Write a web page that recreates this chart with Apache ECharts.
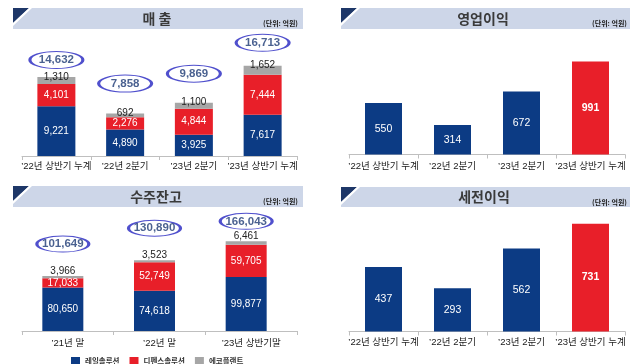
<!DOCTYPE html>
<html><head><meta charset="utf-8">
<script src="https://cdn.jsdelivr.net/npm/echarts@6/dist/echarts.min.js"></script>
<style>html,body{margin:0;padding:0;background:#fff}#c{width:640px;height:364px}</style>
</head><body><div id="c"></div>
<script>
const salesCats = ['’22년 상반기 누계', '’22년 2분기', '’23년 2분기', '’23년 상반기 누계'];
const salesRail = [9221, 4890, 3925, 7617];
const salesDefense = [4101, 2276, 4844, 7444];
const salesEco = [1310, 692, 1100, 1652];
const salesTotal = [14632, 7858, 9869, 16713];
const opProfit = [550, 314, 672, 991];
const backlogCats = ['’21년 말', '’22년 말', '’23년 상반기말'];
const backlogRail = [80650, 74618, 99877];
const backlogDefense = [17033, 52749, 59705];
const backlogEco = [3966, 3523, 6461];
const backlogTotal = [101649, 130890, 166043];
const pretaxProfit = [437, 293, 562, 731];
const seriesNames = ['레일솔루션', '디펜스솔루션', '에코플랜트'];
const panelTitles = ['매 출', '영업이익', '수주잔고', '세전이익'];
const unitText = '(단위: 억원)';

const FONT = "'Liberation Sans', Arial, 'Noto Sans CJK KR', sans-serif";
const BLUE = '#0c3b84', RED = '#e81f29', GRAY = '#a6a6a6';
const fmt = v => v.toLocaleString('en-US');

const grids = [
  {left: 22, width: 275, top: 48, height: 108},
  {left: 349, width: 276, top: 42, height: 112.5},
  {left: 22, width: 275, top: 223, height: 108},
  {left: 349, width: 276, top: 213.5, height: 118},
  {left: 17, width: 275, top: 223, height: 108}
];
const maxes = [20000, 1200, 200000, 800, 200000];
const catsFor = [salesCats, salesCats, backlogCats, salesCats, backlogCats];
const margins = [6, 7, 8, 6, 8];

const xAxes = grids.map((g, i) => ({
  type: 'category', gridIndex: i, data: catsFor[i], show: i !== 4,
  axisLine: {lineStyle: {color: '#bfbfbf', width: 1}},
  axisTick: {show: true, length: 4, lineStyle: {color: '#bfbfbf'}},
  axisLabel: {color: '#1a1a1a', fontSize: 9.5, fontFamily: FONT, margin: margins[i], interval: 0}
}));
const yAxes = grids.map((g, i) => ({
  type: 'value', gridIndex: i, min: 0, max: maxes[i], show: false,
  splitLine: {show: false}
}));

function stackSeries(axisIdx, stackName, arrays, barWidth, grayDist) {
  const colors = [BLUE, RED, GRAY];
  return arrays.map((arr, k) => ({
    name: seriesNames[k], type: 'bar', stack: stackName,
    xAxisIndex: axisIdx, yAxisIndex: axisIdx, barWidth: barWidth,
    data: arr, itemStyle: {color: colors[k]},
    label: k < 2 ? {show: true, position: 'inside', color: '#fff', fontSize: 10, fontFamily: FONT, formatter: p => fmt(p.value)}
                 : {show: true, position: 'top', distance: grayDist, color: '#222', fontSize: 10, fontFamily: FONT, formatter: p => fmt(p.value)},
    z: 2
  }));
}

function totalSeries(axisIdx, totals, lift, size) {
  return {
    type: 'scatter', xAxisIndex: axisIdx, yAxisIndex: axisIdx,
    symbol: 'circle', symbolSize: size,
    data: totals.map((v, i) => ({value: v, symbolOffset: [0, -lift[i]]})),
    itemStyle: {color: 'rgba(255,255,255,0)', borderColor: '#2424c0', borderWidth: 1.8},
    label: {show: true, position: 'inside', color: '#1d3a74', fontWeight: 'bold', fontSize: 11.5, fontFamily: FONT, formatter: p => fmt(p.value)},
    z: 5, silent: true
  };
}

function profitSeries(axisIdx, arr) {
  const last = arr.length - 1;
  return {
    type: 'bar', xAxisIndex: axisIdx, yAxisIndex: axisIdx, barWidth: 37,
    data: arr.map((v, i) => ({
      value: v,
      itemStyle: {color: i === last ? RED : BLUE},
      label: {fontWeight: i === last ? 'bold' : 'normal'}
    })),
    label: {show: true, position: 'inside', color: '#fff', fontSize: 10.5, fontFamily: FONT}
  };
}

const series = [].concat(
  stackSeries(0, 'sales', [salesRail, salesDefense, salesEco], 38, -5),
  [totalSeries(0, salesTotal, [17, 30, 29, 23], [53, 17])],
  [profitSeries(1, opProfit)],
  stackSeries(4, 'backlog', [backlogRail, backlogDefense, backlogEco], 41, 0),
  [totalSeries(4, backlogTotal, [32, 32, 20], [52, 16])],
  [profitSeries(3, pretaxProfit)]
);

// header bands
const bands = [
  {x: 13, y: 8, w: 290, h: 21, tx: 157, ux: 298},
  {x: 341, y: 8, w: 289, h: 21, tx: 483, ux: 627},
  {x: 13, y: 186, w: 290, h: 21, tx: 156, ux: 298},
  {x: 341, y: 187, w: 289, h: 20, tx: 484, ux: 627}
];
const graphic = [];
bands.forEach((b, i) => {
  graphic.push({type: 'rect', shape: {x: b.x, y: b.y, width: b.w, height: b.h}, style: {fill: '#cdd6e8'}, z: 0});
  graphic.push({type: 'polygon', shape: {points: [[b.x, b.y], [b.x + 16, b.y], [b.x, b.y + 15]]}, style: {fill: '#1e3768'}, z: 1});
  graphic.push({type: 'polygon', shape: {points: [[b.x + 16, b.y], [b.x + 19, b.y], [b.x, b.y + 18], [b.x, b.y + 15]]}, style: {fill: '#ffffff'}, z: 1});
  graphic.push({type: 'text', x: b.tx, y: b.y + b.h / 2, style: {text: panelTitles[i], fill: '#3a3a3a', font: "bold 14px 'Noto Sans CJK KR', sans-serif", textAlign: 'center', textVerticalAlign: 'middle'}, z: 2});
  graphic.push({type: 'text', x: b.ux, y: b.y + b.h / 2 + 5, style: {text: unitText, fill: '#222', font: "bold 7px 'Noto Sans CJK KR', sans-serif", textAlign: 'right', textVerticalAlign: 'middle'}, z: 2});
});

const chart = echarts.init(document.getElementById('c'), null, {renderer: 'canvas'});
chart.setOption({
  animation: false,
  backgroundColor: '#ffffff',
  grid: grids,
  xAxis: xAxes,
  yAxis: yAxes,
  legend: {
    data: seriesNames, left: 66, top: 352, itemWidth: 9, itemHeight: 8, itemGap: 10, icon: 'rect',
    textStyle: {fontSize: 7.5, fontWeight: 'bold', color: '#333', fontFamily: "'Noto Sans CJK KR', sans-serif", padding: [0, 0, 0, 0]},
    selectedMode: false
  },
  series: series,
  graphic: graphic
});
</script>
</body></html>
